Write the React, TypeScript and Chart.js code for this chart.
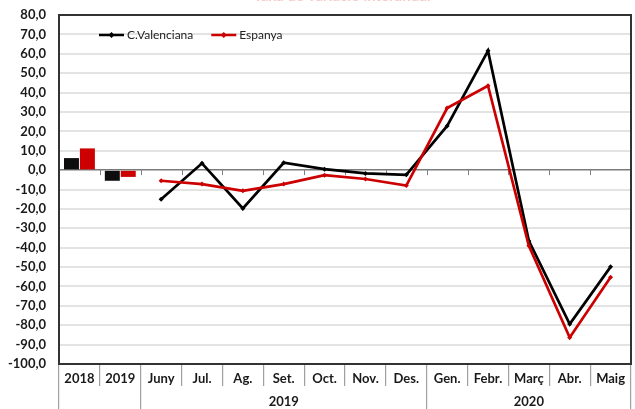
import React, { useEffect, useRef } from 'react';
import { Chart, registerables } from 'chart.js';

Chart.register(...registerables);

const categories = ['2018', '2019', 'Juny', 'Jul.', 'Ag.', 'Set.', 'Oct.', 'Nov.', 'Des.', 'Gen.', 'Febr.', 'Març', 'Abr.', 'Maig'];
const annualCV = [6.2, -5.5];
const annualES = [11.2, -3.5];
const monthlyCV = [-15, 3.5, -19.8, 3.8, 0.5, -1.7, -2.4, 22.8, 61.5, -36.5, -79.4, -49.9];
const monthlyES = [-5.5, -7.2, -10.7, -7.2, -2.6, -4.6, -8.0, 32.0, 43.5, -39.0, -86.3, -55.3];
const yearGroups = [
  { label: '2019', from: 2, to: 8 },
  { label: '2020', from: 9, to: 13 },
];
const seriesNames = ['C.Valenciana', 'Espanya'];
const titleText = 'Taxa de variació interanual';
const yMin = -100;
const yMax = 80;
const yStep = 10;

const FONT = 'Lato, "Open Sans", sans-serif';
const BLACK = '#000000';
const RED = '#cc0000';

const padTo = (arr: number[], before: number, total: number) => {
  const out: (number | null)[] = [];
  for (let i = 0; i < total; i++) {
    const j = i - before;
    out.push(j >= 0 && j < arr.length ? arr[j] : null);
  }
  return out;
};

const groupLabels = categories.map((_, i) => {
  const g = yearGroups.find((gg) => (gg.from + gg.to) / 2 === i);
  return g ? g.label : '';
});
const groupBoundaries = new Set<number>([0, ...yearGroups.map((g) => g.from)]);

const zeroPads = (scale: any) => {
  scale.paddingTop = 0;
  scale.paddingBottom = 0;
  scale.paddingLeft = 0;
  scale.paddingRight = 0;
};

const decorPlugin = {
  id: 'decor',
  beforeDatasetsDraw(chart: any) {
    const { ctx, chartArea, scales } = chart;
    const x = scales.x;
    const y = scales.y;
    const y0 = y.getPixelForValue(0);
    ctx.save();
    ctx.strokeStyle = '#808080';
    ctx.lineWidth = 1;
    for (let i = 0; i <= categories.length; i++) {
      const px = Math.round(x.getPixelForValue(i - 0.5)) + 0.5;
      if (px <= chartArea.left + 1 || px >= chartArea.right - 1) continue;
      ctx.beginPath();
      ctx.moveTo(px, y0);
      ctx.lineTo(px, y0 + 5);
      ctx.stroke();
    }
    ctx.restore();
  },
  afterDraw(chart: any) {
    const { ctx, chartArea } = chart;
    ctx.save();
    ctx.strokeStyle = '#333333';
    ctx.lineWidth = 2;
    ctx.strokeRect(chartArea.left, chartArea.top, chartArea.right - chartArea.left, chartArea.bottom - chartArea.top);

    ctx.fillStyle = '#f4cccc';
    ctx.font = `bold 15px ${FONT}`;
    ctx.textAlign = 'center';
    ctx.textBaseline = 'alphabetic';
    ctx.fillText(titleText, (chartArea.left + chartArea.right) / 2 - 3, 0.8);

    const ly = chartArea.top + 20;
    const colors = [BLACK, RED];
    let lx = chartArea.left + 40;
    ctx.font = `12px ${FONT}`;
    ctx.textAlign = 'left';
    ctx.textBaseline = 'middle';
    seriesNames.forEach((name, k) => {
      ctx.strokeStyle = colors[k];
      ctx.fillStyle = colors[k];
      ctx.lineWidth = 2.5;
      ctx.beginPath();
      ctx.moveTo(lx, ly);
      ctx.lineTo(lx + 25, ly);
      ctx.stroke();
      const cx = lx + 12.5;
      ctx.beginPath();
      ctx.moveTo(cx, ly - 3);
      ctx.lineTo(cx + 3, ly);
      ctx.lineTo(cx, ly + 3);
      ctx.lineTo(cx - 3, ly);
      ctx.closePath();
      ctx.fill();
      ctx.fillStyle = '#222222';
      ctx.fillText(name, lx + 28, ly + 0.5);
      const w = ctx.measureText(name).width;
      lx = lx + 28 + w + 18;
    });
    ctx.restore();
  },
};

export default function App() {
  const canvasRef = useRef<HTMLCanvasElement | null>(null);

  useEffect(() => {
    if (!canvasRef.current) return;
    const n = categories.length;
    const chart = new Chart(canvasRef.current, {
      type: 'bar',
      data: {
        labels: categories,
        datasets: [
          {
            type: 'line',
            label: seriesNames[1],
            data: padTo(monthlyES, annualES.length, n),
            borderColor: RED,
            backgroundColor: RED,
            borderWidth: 2.7,
            pointStyle: 'rectRot',
            pointRadius: 2.5,
            pointBorderWidth: 0,
            tension: 0,
          } as any,
          {
            type: 'line',
            label: seriesNames[0],
            data: padTo(monthlyCV, annualCV.length, n),
            borderColor: BLACK,
            backgroundColor: BLACK,
            borderWidth: 2.7,
            pointStyle: 'rectRot',
            pointRadius: 2.5,
            pointBorderWidth: 0,
            tension: 0,
          } as any,
          {
            type: 'bar',
            label: seriesNames[0],
            data: padTo(annualCV, 0, n),
            backgroundColor: '#0d0d0d',
            borderWidth: 0,
            barPercentage: 0.94,
            categoryPercentage: 0.78,
          },
          {
            type: 'bar',
            label: seriesNames[1],
            data: padTo(annualES, 0, n),
            backgroundColor: RED,
            borderWidth: 0,
            barPercentage: 0.94,
            categoryPercentage: 0.78,
          },
        ],
      },
      options: {
        animation: false,
        responsive: true,
        maintainAspectRatio: false,
        layout: { padding: { top: 15, right: -2, left: 0, bottom: 0 } },
        plugins: {
          legend: { display: false },
          tooltip: { enabled: false },
          title: { display: false },
        },
        scales: {
          x: {
            type: 'category',
            position: 'bottom',
            offset: true,
            grid: {
              offset: true,
              drawOnChartArea: false,
              drawTicks: true,
              tickLength: 22,
              tickColor: '#a0a0a0',
              lineWidth: 1.2,
            },
            border: { display: false },
            ticks: {
              autoSkip: false,
              maxRotation: 0,
              minRotation: 0,
              padding: -14.5,
              color: '#1a1a1a',
              font: { family: FONT, size: 13, weight: 'bold' },
            },
            afterFit: (scale: any) => {
              scale.height = 22;
              zeroPads(scale);
            },
          },
          x2: {
            type: 'category',
            position: 'bottom',
            labels: groupLabels,
            offset: true,
            grid: {
              offset: true,
              drawOnChartArea: false,
              drawTicks: true,
              tickLength: 23,
              lineWidth: 1.2,
              tickColor: (ctx: any) =>
                ctx.index === undefined || groupBoundaries.has(ctx.index) ? '#a0a0a0' : 'rgba(0,0,0,0)',
            },
            border: { display: false },
            ticks: {
              autoSkip: false,
              maxRotation: 0,
              minRotation: 0,
              padding: -14.5,
              color: '#1a1a1a',
              font: { family: FONT, size: 13, weight: 'bold' },
            },
            afterFit: (scale: any) => {
              scale.height = 23;
              zeroPads(scale);
            },
          },
          y: {
            min: yMin,
            max: yMax,
            border: { display: false },
            grid: {
              drawTicks: false,
              color: (ctx: any) => (ctx.tick && ctx.tick.value === 0 ? '#7a7a7a' : '#e3e3e3'),
              lineWidth: (ctx: any) => (ctx.tick && ctx.tick.value === 0 ? 1.5 : 2),
            },
            ticks: {
              stepSize: yStep,
              padding: 13,
              color: '#1a1a1a',
              font: { family: FONT, size: 13, weight: 'bold' },
              callback: (v: any) => Number(v).toFixed(1).replace('.', ','),
            },
            afterFit: (scale: any) => {
              scale.width = 59;
              zeroPads(scale);
            },
          },
        },
      } as any,
      plugins: [decorPlugin],
    });
    return () => chart.destroy();
  }, []);

  return (
    <div style={{ position: 'absolute', left: 0, top: 0, width: 635, height: 409, background: '#ffffff' }}>
      <canvas ref={canvasRef} />
    </div>
  );
}
